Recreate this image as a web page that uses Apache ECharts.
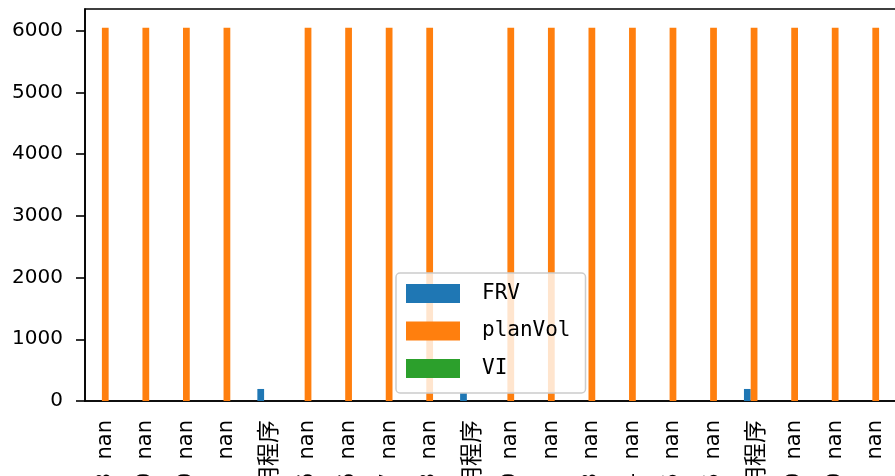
<!DOCTYPE html>
<html>
<head>
<meta charset="utf-8">
<script src="https://cdn.jsdelivr.net/npm/echarts@6/dist/echarts.min.js"></script>
<style>
  html, body { margin: 0; padding: 0; background: #fff; }
  #chart { width: 895px; height: 476px; }
</style>
</head>
<body>
<div id="chart"></div>
<script>
// x labels (their leading parts fall below the picture edge)
const categories = [
  '3  nan', '0  nan', '0  nan', 'nan', '应用程序', '6  nan', '6  nan', '7  nan', '3  nan', '应用程序',
  '0  nan', 'nan', '3  nan', '4  nan', '5  nan', '5  nan', '应用程序', '0  nan', '0  nan', 'nan'
]
const frv = [0, 0, 0, 0, 195, 0, 0, 0, 0, 130, 0, 0, 0, 0, 0, 0, 195, 0, 0, 0]
const planVol = [6048, 6048, 6048, 6048, null, 6048, 6048, 6048, 6048, null,
  6048, 6048, 6048, 6048, 6048, 6048, 6048, 6048, 6048, 6048]
const vi = [null, null, null, null, null, null, null, null, null, null,
  null, null, null, null, null, null, null, null, null, null]
const yTicks = [0, 1000, 2000, 3000, 4000, 5000, 6000]

const chart = echarts.init(document.getElementById('chart'))
const font = 'DejaVu Sans, Noto Sans CJK JP, sans-serif'

function barSeries(name, data, color) {
  return {
    name,
    type: 'bar',
    data,
    barWidth: 6.75,
    barGap: '0%',
    itemStyle: { color },
  }
}

// CJK labels are drawn a bit larger, like the original font
const xData = categories.map(c => (/[\u4e00-\u9fff]/.test(c)
  ? { value: c, textStyle: { fontSize: 23, fontFamily: 'Noto Sans CJK JP' } }
  : c))

chart.setOption({
  animation: false,
  grid: {
    left: 85, top: 9, right: -1, bottom: 75,
    containLabel: false,
    outerBoundsMode: 'none',
    show: true, borderColor: '#000', borderWidth: 1.6, backgroundColor: 'transparent',
  },
  legend: {
    orient: 'vertical',
    left: 396,
    top: 273,
    itemWidth: 54,
    itemHeight: 19,
    itemGap: 16.5,
    padding: [10, 15, 14, 10],
    backgroundColor: 'rgba(255,255,255,0.8)',
    borderColor: '#cccccc',
    borderWidth: 1.5,
    borderRadius: 4,
    icon: 'rect',
    textStyle: { fontFamily: 'DejaVu Sans Mono, monospace', fontSize: 21, color: '#000', padding: [0, 0, 0, 17] },
    data: ['FRV', 'planVol', 'VI'],
  },
  xAxis: {
    type: 'category',
    data: xData,
    axisLine: { lineStyle: { color: '#000', width: 1.6 } },
    axisTick: { alignWithLabel: true, length: 9, lineStyle: { color: '#000', width: 1.6 } },
    axisLabel: { rotate: 90, interval: 0, margin: 19, color: '#000', fontSize: 21, fontFamily: font },
  },
  yAxis: {
    type: 'value',
    min: 0,
    max: 6350,
    interval: 1000,
    splitLine: { show: false },
    axisLine: { show: true, lineStyle: { color: '#000', width: 1.6 } },
    axisTick: { show: true, length: 9, lineStyle: { color: '#000', width: 1.6 } },
    axisLabel: {
      showMaxLabel: false, margin: 22, color: '#000', fontSize: 20, fontFamily: font,
      formatter: v => (yTicks.includes(v) ? String(v) : ''),
    },
  },
  series: [
    barSeries('FRV', frv, '#1f77b4'),
    barSeries('planVol', planVol, '#ff7f0e'),
    barSeries('VI', vi, '#2ca02c'),
  ],
})
</script>
</body>
</html>
